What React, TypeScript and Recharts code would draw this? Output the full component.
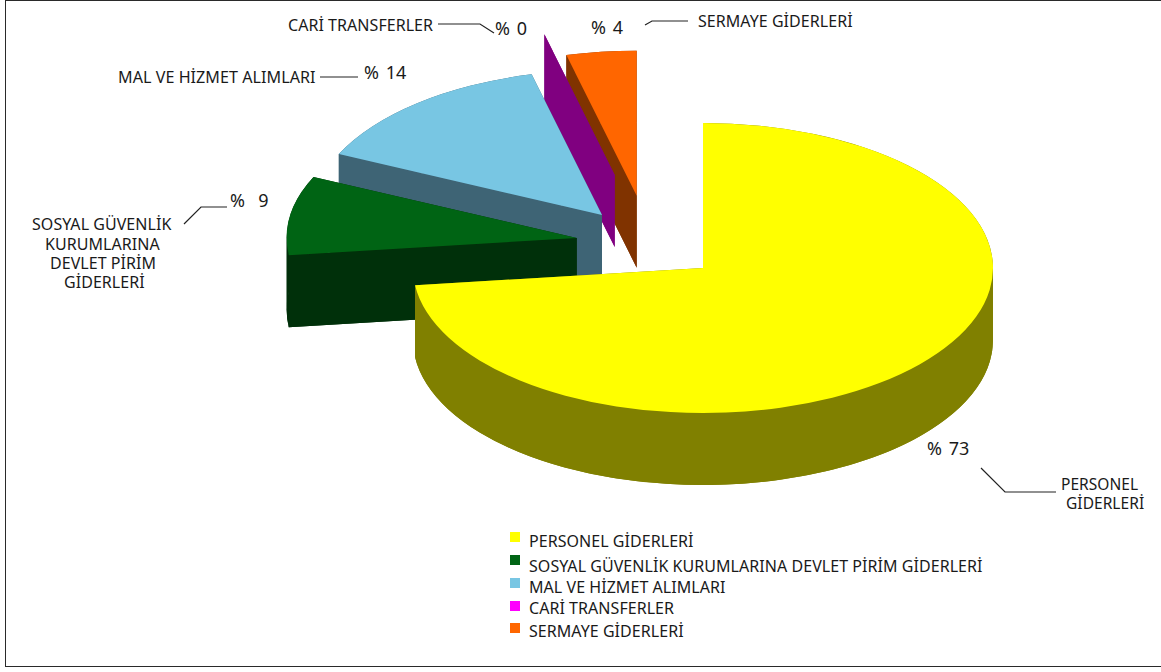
import React from 'react';
import { PieChart, Pie, Legend } from 'recharts';

// ---- data (legend order) ----
const categories = ['PERSONEL GİDERLERİ', 'SOSYAL GÜVENLİK KURUMLARINA DEVLET PİRİM GİDERLERİ', 'MAL VE HİZMET ALIMLARI', 'CARİ TRANSFERLER', 'SERMAYE GİDERLERİ'];
const shares = [73.1, 8.8, 14.2, 0, 3.9];

// ---- styles ----
const topColors = ['#FFFF00', '#006414', '#78C6E3', '#FF00FF', '#FF6600'];
const sideColors = ['#808000', '#00300A', '#3E6475', '#800080', '#803300'];
const explode = [[0, 0], [-126.3, -30], [-101, -53], [-88.3, -93], [-66.3, -72.3]];
const FONT = '"Noto Sans", sans-serif';
const INK = '#1a1a1a';
const TILT = 0.5;
const DEPTH = 72;

const labelLayout = [
  { pct: [927, 455], lines: [['PERSONEL', 1061, 490], ['GİDERLERİ', 1066, 509]], lead: '981,468 1005,492 1056,492', size: 15.5 },
  { pct: [230, 207], lines: [['SOSYAL GÜVENLİK', 32, 230], ['KURUMLARINA', 45, 250], ['DEVLET PİRİM', 50, 269], ['GİDERLERİ', 64, 288]], lead: '184,224 201,207 227,207', size: 16 },
  { pct: [364, 79], lines: [['MAL VE HİZMET ALIMLARI', 118, 83]], lead: '320,77 358,77', size: 16.1 },
  { pct: [495, 35], lines: [['CARİ TRANSFERLER', 288, 31]], lead: '438,24 480,24 494,33', size: 16 },
  { pct: [591, 34], lines: [['SERMAYE GİDERLERİ', 698, 26.5]], lead: '645,25 652,21 688,21', size: 16 },
];
const legendRows = [[532, 540.5], [555, 566], [578, 586.8], [601, 607.8], [623, 630.5]];

const table = categories.map((name, i) => ({ name, value: shares[i], idx: i })).reverse();

function WedgeShape(props: any) {
  const { cx, cy, outerRadius, startAngle, endAngle, idx } = props;
  const i = idx ?? props.payload?.idx;
  const ox = cx + explode[i][0];
  const oy = cy + explode[i][1];
  const rx = outerRadius;
  const ry = outerRadius * TILT;
  const pt = (deg: number, d = 0) => {
    const a = (deg * Math.PI) / 180;
    return `${(ox + rx * Math.cos(a)).toFixed(2)} ${(oy - ry * Math.sin(a) + d).toFixed(2)}`;
  };
  const large = Math.abs(endAngle - startAngle) > 180 ? 1 : 0;
  const top = `M${ox} ${oy} L${pt(startAngle)} A${rx} ${ry} 0 ${large} 0 ${pt(endAngle)} Z`;
  const bottom = `M${ox} ${oy + DEPTH} L${pt(startAngle, DEPTH)} A${rx} ${ry} 0 ${large} 0 ${pt(endAngle, DEPTH)} Z`;
  // the rim is cut at the ellipse's left and right extremes so each piece is a simple band
  const stops = [startAngle];
  for (let k = Math.ceil(startAngle / 180); k * 180 < endAngle; k++) {
    if (k * 180 > startAngle) stops.push(k * 180);
  }
  stops.push(endAngle);
  const rims = stops.slice(1).map((b, k) => {
    const a = stops[k];
    return `M${pt(a)} A${rx} ${ry} 0 0 0 ${pt(b)} L${pt(b, DEPTH)} A${rx} ${ry} 0 0 1 ${pt(a, DEPTH)} Z`;
  });
  const quad = (deg: number) => `M${ox} ${oy} L${pt(deg)} L${pt(deg, DEPTH)} L${ox} ${oy + DEPTH} Z`;
  const side = sideColors[i];
  return (
    <g>
      <path d={bottom} fill={side} />
      {rims.map((d) => <path key={d} d={d} fill={side} />)}
      <path d={quad(startAngle)} fill={side} />
      <path d={quad(endAngle)} fill={side} />
      {startAngle !== endAngle && <path d={top} fill={topColors[i]} />}
    </g>
  );
}

function renderLabel(props: any) {
  const i = props.idx ?? props.payload?.idx;
  const l = labelLayout[i];
  return (
    <g key={i} fontFamily={FONT} fill={INK}>
      <text x={l.pct[0]} y={l.pct[1]} fontSize={18} wordSpacing={2} style={{ whiteSpace: 'pre' }}>
        {`% ${i === 1 ? ' ' : ''}${Math.round(shares[i])}`}
      </text>
      <text fontSize={l.size} letterSpacing={0.05}>
        {l.lines.map((ln: any) => (
          <tspan key={ln[0]} x={ln[1]} y={ln[2]}>{ln[0]}</tspan>
        ))}
      </text>
      <polyline points={l.lead} fill="none" stroke="#222" strokeWidth={1.2} />
    </g>
  );
}

function LegendBox() {
  return (
    <div style={{ position: 'relative', width: 1161, height: 672, fontFamily: FONT, color: INK, fontSize: 16, letterSpacing: 0.05 }}>
      {categories.map((name, i) => (
        <React.Fragment key={name}>
          <div style={{ position: 'absolute', left: 510, top: legendRows[i][0], width: 10, height: 10, background: topColors[i] }} />
          <div style={{ position: 'absolute', left: 529, top: legendRows[i][1] - 10, lineHeight: '20px', whiteSpace: 'nowrap' }}>{name}</div>
        </React.Fragment>
      ))}
    </div>
  );
}

export default function App() {
  return (
    <div style={{ position: 'absolute', left: 0, top: 0, width: 1161, height: 672, background: '#fff', overflow: 'hidden' }}>
      <div style={{ position: 'absolute', left: 4.75, top: -0.25, width: 1200, height: 665.5, border: '1.5px solid #2a2a2a', boxSizing: 'content-box' }} />
      <PieChart width={1161} height={672} margin={{ top: 0, right: 0, bottom: 0, left: 0 }}>
        <Pie
          data={table}
          dataKey="value"
          nameKey="name"
          cx={703}
          cy={268}
          innerRadius={0}
          outerRadius={290}
          startAngle={90}
          endAngle={450}
          paddingAngle={0}
          stroke="none"
          isAnimationActive={false}
          shape={WedgeShape}
          label={renderLabel}
          labelLine={false}
        />
        <Legend content={LegendBox} wrapperStyle={{ position: 'absolute', left: 0, top: 0, width: 1161, height: 672 }} />
      </PieChart>
    </div>
  );
}
